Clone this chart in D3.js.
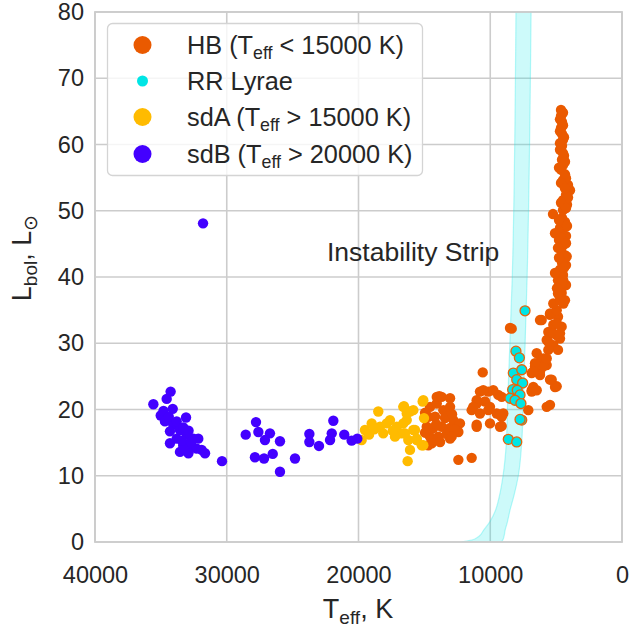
<!DOCTYPE html>
<html>
<head>
<meta charset="utf-8">
<script src="https://cdn.jsdelivr.net/npm/d3@7"></script>
<style>
  html, body { margin: 0; padding: 0; background: #ffffff; }
  svg { display: block; font-family: "Liberation Sans", Arial, Helvetica, sans-serif; }
</style>
</head>
<body>
<script>
// Horizontal branch stars, Teff [K] and Lbol [Lsun]
const hbPoints = [
  [4630,65.2],[4630,64.3],[4554,63.4],[4630,62.5],[4554,61.6],[4478,60.7],[4554,59.8],[4706,59.2],
  [4402,58.3],[4554,57.7],[4478,56.9],[4630,56.2],[4326,55.5],[4478,54.6],[4099,53.9],[3947,53.1],
  [4250,52.4],[4478,51.6],[4175,50.9],[4478,50.1],[5237,49.5],[4554,48.9],[4326,48.3],[4706,47.4],
  [4554,46.8],[4250,46.2],[4782,45.6],[4478,44.8],[4630,44.1],[4326,43.3],[4554,42.6],[4250,41.8],
  [4706,41.1],[4478,40.3],[4858,39.5],[4250,38.8],[4630,38.0],
  [4550,42.1],[5085,40.6],[4460,39.5],[4830,38.0],[4330,36.5],[5085,46.6],[4200,43.1],[4580,37.6],
  [4478,64.8],[4706,63.8],[4478,62.9],[4706,62.0],[4402,61.1],[4706,60.2],[4478,58.7],[4326,57.4],
  [4782,56.5],[4250,54.9],[4630,54.2],[4326,53.4],[4099,52.0],[4630,51.2],[4250,50.4],[4782,48.6],
  [4175,47.7],[4630,45.9],[4250,45.1],[4858,44.4],[4782,42.9],[4402,41.4],[4554,39.1],[4934,38.3],
  [4706,37.1],
  [5465,34.5],[4858,34.0],[6095,33.5],[5214,32.8],[4580,32.5],[5594,31.7],[4956,31.2],[4706,30.7],
  [5715,30.5],[5214,29.7],[4858,29.0],[5594,29.0],[6474,28.5],[5973,27.7],[6224,27.2],[6603,26.5],
  [5715,26.7],[6854,25.5],[6224,25.7],[5336,24.5],[4956,23.5],[6732,23.4],[6854,22.7],[7112,19.9],
  [5465,20.7],[5715,20.4],[9130,21.9],[9010,19.4],[8370,32.2],
  [6224,33.5],[5594,30.2],[5214,31.5],[4956,33.0],[4706,31.5],[5465,34.3],[4956,35.0],[5214,36.0],
  [4706,36.5],[4858,37.5],[4450,36.0],[5973,26.5],[6603,27.0],[5085,23.4],[5465,24.5],[6224,25.2],
  [6732,25.7],[5715,27.7],[6854,22.9],[8500,32.3],[6474,22.9],
  [10570,25.6],[10780,22.7],[10150,22.7],[9390,22.2],[11030,20.9],[10400,21.2],[11410,19.9],[10780,19.4],
  [10150,19.9],[9510,19.4],[9130,18.9],[11030,17.7],[10020,17.9],[9260,17.4],[11030,21.4],[10530,22.9],
  [9770,22.9],[11290,20.4],[10020,20.4],[9260,19.2],[11030,17.4],[9130,17.5],[12420,12.4],[11410,12.7],
  [13870,22.0],[13050,21.7],[14570,20.4],[14060,20.9],[13560,19.9],[13050,20.4],[14700,18.9],[14190,18.9],
  [13430,18.7],[12800,18.4],[12300,17.9],[14820,17.4],[14320,17.2],[13680,17.4],[13050,17.2],[12420,16.6],
  [14570,15.9],[13940,15.9],[13050,15.6],[14440,14.9],[13810,15.1],[14950,19.5],[14950,16.5],[13300,16.3],
  [12700,17.0],[14100,17.8],[13400,19.0],[12900,19.3],[14700,14.6],[14060,21.9],[12930,15.9],[13690,21.9]
];

// RR Lyrae variables
const rrLyraePoints = [
  [7360,34.9],[8050,28.8],[7790,27.8],[8250,25.5],[7610,26.0],[7990,24.5],[7540,24.0],[8300,23.0],
  [7950,22.9],[7740,22.2],[8500,21.7],[8120,21.4],[7670,20.9],[7610,18.4],[7740,18.5],[8630,15.5],
  [7990,15.1]
];

// sdA stars
const sdAPoints = [
  [19760,15.4],[19510,16.9],[19000,17.9],[18500,19.7],[18370,17.4],[17860,17.9],[17610,18.4],[18120,16.4],
  [17230,15.9],[16850,16.4],[16600,17.9],[16550,20.5],[16340,19.4],[15840,19.9],[16470,16.4],[16220,15.4],
  [16090,13.9],[16270,12.2],[15710,16.9],[15580,15.4],[15200,14.6],[15080,21.4],[15030,18.7],[17100,17.4],
  [16600,20.4],[15130,21.2],[16090,19.7],[16340,18.4],[16600,16.4],[15840,16.9],[15580,15.6],[15080,14.6],
  [19200,16.2],[17400,16.8],[18800,17.0]
];

// sdB stars
const sdBPoints = [
  [34260,22.7],[34560,21.6],[35570,20.8],[34100,20.1],[35010,19.1],[33090,18.8],[34690,18.2],[34060,17.7],
  [34310,16.7],[33550,16.9],[33800,15.6],[33040,16.2],[32530,15.6],[32160,15.6],[34310,14.9],[33300,14.6],
  [32790,14.4],[32280,14.1],[31900,13.9],[33550,13.6],[32910,13.4],[31650,13.4],[33300,14.1],[30360,12.2],
  [34800,19.8],[34400,18.9],[33800,18.2],[33300,17.3],[32900,16.8],[33400,15.3],[32700,15.1],
  [31800,48.1],
  [27780,18.1],[28560,16.2],[27600,16.6],[26720,16.4],[27100,15.4],[25960,15.2],[27860,12.8],[27170,12.6],
  [26510,13.3],[25960,10.6],[24820,12.6],[23730,16.3],[23730,15.1],[23000,14.5],[21910,18.3],[22030,16.4],
  [22160,15.4],[21080,16.2],[20520,15.3],[20090,15.6]
];

// Instability strip: hot and cool edge temperatures along luminosity
const stripL         = [0,     0.3,   0.8,   1.8,   3,     4.8,  7,    10,   15,   20,   40,   80];
const stripTeffHot   = [12200, 11400, 10900, 10500, 10050, 9600, 9300, 9030, 8780, 8700, 8330, 8050];
const stripTeffCool  = [9150,  9050,  8960,  8870,  8700,  8500, 8200, 7870, 7610, 7510, 7200, 6900];

const xTicks = [40000, 30000, 20000, 10000, 0];
const yTicks = [0, 10, 20, 30, 40, 50, 60, 70, 80];

const legendItems = [
  { label: "HB", cond: " < 15000 K)", color: "#ea5a00", r: 9 },
  { label: "RR Lyrae", cond: null, color: "#00e5e5", r: 5.5 },
  { label: "sdA", cond: " > 15000 K)", color: "#ffbb00", r: 9 },
  { label: "sdB", cond: " > 20000 K)", color: "#4300ff", r: 9 }
];

const W = 630, H = 628;
const plot = { left: 95, right: 622, top: 12, bottom: 542 };
const textColor = "#262626";
const gridColor = "#cccccc";

const svg = d3.select("body").append("svg").attr("width", W).attr("height", H);

const x = d3.scaleLinear().domain([40000, 0]).range([plot.left, plot.right]);
const y = d3.scaleLinear().domain([0, 80]).range([plot.bottom, plot.top]);

// grid
const grid = svg.append("g");
grid.selectAll(".gx").data(xTicks).join("line")
  .attr("x1", d => x(d)).attr("x2", d => x(d))
  .attr("y1", plot.top).attr("y2", plot.bottom)
  .attr("stroke", gridColor).attr("stroke-width", 1.6);
grid.selectAll(".gy").data(yTicks).join("line")
  .attr("x1", plot.left).attr("x2", plot.right)
  .attr("y1", d => y(d)).attr("y2", d => y(d))
  .attr("stroke", gridColor).attr("stroke-width", 1.6);

// axes (labels only, no tick marks)
const xAxis = d3.axisBottom(x).tickValues(xTicks).tickFormat(d3.format("d")).tickSize(0).tickPadding(24);
const yAxis = d3.axisLeft(y).tickValues(yTicks).tickFormat(d3.format("d")).tickSize(0).tickPadding(11);
const gx = svg.append("g").attr("transform", `translate(0,${plot.bottom})`).call(xAxis);
const gy = svg.append("g").attr("transform", `translate(${plot.left},0)`).call(yAxis);
[gx, gy].forEach(g => {
  g.select(".domain").remove();
  g.selectAll("text").attr("fill", textColor).style("font-size", "23.5px")
    .style("font-family", "'Liberation Sans', Arial, sans-serif");
});

// instability strip band
svg.append("clipPath").attr("id", "plotclip").append("rect")
  .attr("x", plot.left).attr("y", plot.top)
  .attr("width", plot.right - plot.left).attr("height", plot.bottom - plot.top);
const strip = stripL.map((L, i) => ({ L, hot: stripTeffHot[i], cool: stripTeffCool[i] }));
const stripArea = d3.area().curve(d3.curveMonotoneY)
  .y(d => y(d.L)).x0(d => x(d.hot)).x1(d => x(d.cool));
const stripLine = (key) => d3.line().curve(d3.curveMonotoneY).y(d => y(d.L)).x(d => x(d[key]));
const gs = svg.append("g").attr("clip-path", "url(#plotclip)");
gs.append("path").datum(strip).attr("d", stripArea).attr("fill", "#1de9e9").attr("fill-opacity", 0.22);
["hot", "cool"].forEach(k => {
  gs.append("path").datum(strip).attr("d", stripLine(k))
    .attr("fill", "none").attr("stroke", "#1de9e9").attr("stroke-opacity", 0.3).attr("stroke-width", 1.2);
});

// frame
svg.append("rect").attr("x", plot.left).attr("y", plot.top)
  .attr("width", plot.right - plot.left).attr("height", plot.bottom - plot.top)
  .attr("fill", "none").attr("stroke", gridColor).attr("stroke-width", 1.8);

// scatter series
const pts = svg.append("g");
pts.selectAll(".hb").data(hbPoints).join("circle")
  .attr("cx", d => x(d[0])).attr("cy", d => y(d[1])).attr("r", 5.2).attr("fill", "#ea5a00");
pts.selectAll(".rr").data(rrLyraePoints).join("circle")
  .attr("cx", d => x(d[0])).attr("cy", d => y(d[1])).attr("r", 5.0)
  .attr("fill", "#00e5e5").attr("stroke", "#e8640a").attr("stroke-width", 1.3);
pts.selectAll(".sda").data(sdAPoints).join("circle")
  .attr("cx", d => x(d[0])).attr("cy", d => y(d[1])).attr("r", 5.2).attr("fill", "#ffbb00");
pts.selectAll(".sdb").data(sdBPoints).join("circle")
  .attr("cx", d => x(d[0])).attr("cy", d => y(d[1])).attr("r", 5.2).attr("fill", "#4300ff");

// annotation
svg.append("text").attr("x", 327).attr("y", 261).attr("fill", textColor)
  .style("font-size", "26.5px").text("Instability Strip");

// legend
const lg = svg.append("g");
lg.append("rect").attr("x", 107.5).attr("y", 23.5).attr("width", 315).attr("height", 152).attr("rx", 5)
  .attr("fill", "#ffffff").attr("fill-opacity", 0.8).attr("stroke", "#d4d4d4").attr("stroke-width", 1.3);
const rowY = [45, 81, 117, 154];
legendItems.forEach((it, i) => {
  lg.append("circle").attr("cx", 142.5).attr("cy", rowY[i]).attr("r", it.r).attr("fill", it.color);
  const t = lg.append("text").attr("x", 187).attr("y", rowY[i] + 8.5).attr("fill", textColor).style("font-size", "25.3px");
  if (it.cond) {
    t.append("tspan").text(it.label + " (T");
    t.append("tspan").attr("dy", 5).style("font-size", "17.8px").text("eff");
    t.append("tspan").attr("dy", -5).text(it.cond);
  } else {
    t.text(it.label);
  }
});

// axis titles
const xt = svg.append("text").attr("x", 358).attr("y", 618).attr("text-anchor", "middle")
  .attr("fill", textColor).style("font-size", "27px");
xt.append("tspan").text("T");
xt.append("tspan").attr("dy", 6).style("font-size", "19px").text("eff");
xt.append("tspan").attr("dy", -6).text(", K");

const yt = svg.append("text").attr("transform", "translate(31,258) rotate(-90)").attr("text-anchor", "middle")
  .attr("fill", textColor).style("font-size", "27px");
yt.append("tspan").text("L");
yt.append("tspan").attr("dy", 6).style("font-size", "19px").text("bol");
yt.append("tspan").attr("dy", -6).text(", L");
yt.append("tspan").attr("dy", 6).style("font-size", "19px").text("⊙");
</script>
</body>
</html>
